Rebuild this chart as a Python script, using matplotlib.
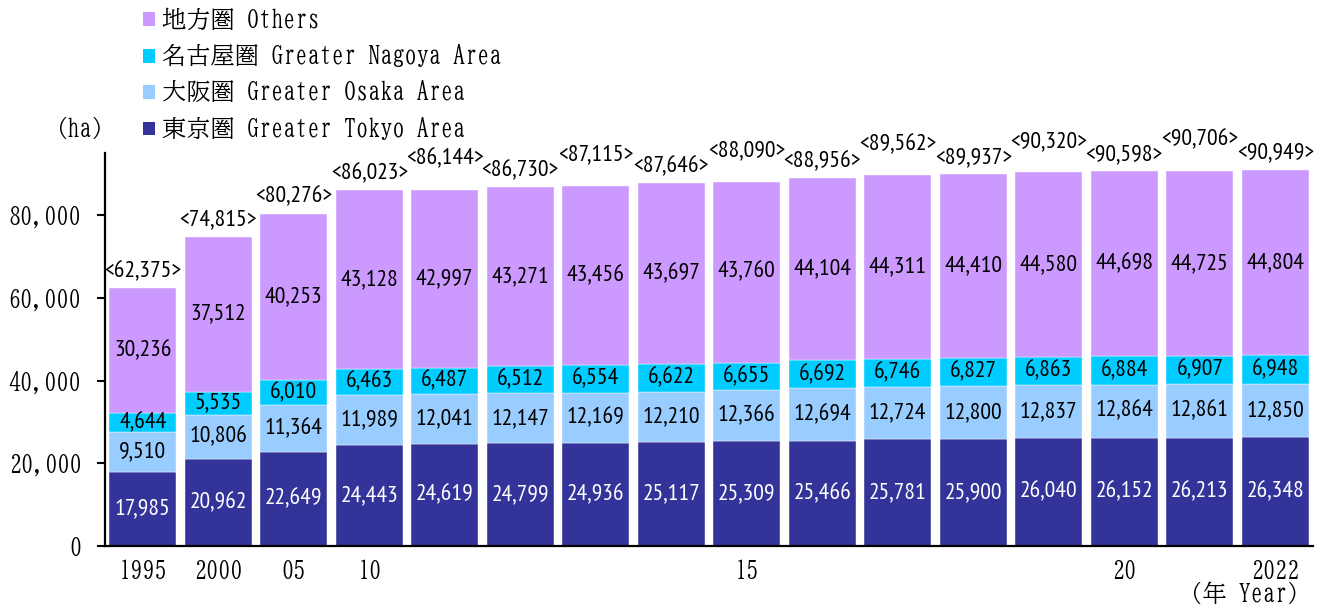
import matplotlib.pyplot as plt
from matplotlib.patches import Patch

# values (ha)
years = [1995, 2000, 2005, 2010, 2011, 2012, 2013, 2014, 2015,
         2016, 2017, 2018, 2019, 2020, 2021, 2022]
tick_labels = ['1995', '2000', '05', '10', '', '', '', '', '15',
               '', '', '', '', '20', '', '2022']
tokyo = [17985, 20962, 22649, 24443, 24619, 24799, 24936, 25117,
         25309, 25466, 25781, 25900, 26040, 26152, 26213, 26348]
osaka = [9510, 10806, 11364, 11989, 12041, 12147, 12169, 12210,
         12366, 12694, 12724, 12800, 12837, 12864, 12861, 12850]
nagoya = [4644, 5535, 6010, 6463, 6487, 6512, 6554, 6622,
          6655, 6692, 6746, 6827, 6863, 6884, 6907, 6948]
others = [30236, 37512, 40253, 43128, 42997, 43271, 43456, 43697,
          43760, 44104, 44311, 44410, 44580, 44698, 44725, 44804]
totals = [62375, 74815, 80276, 86023, 86144, 86730, 87115, 87646,
          88090, 88956, 89562, 89937, 90320, 90598, 90706, 90949]

series = [
    ('東京圏 Greater Tokyo Area', tokyo, '#333399', 'white'),
    ('大阪圏 Greater Osaka Area', osaka, '#99CCFF', 'black'),
    ('名古屋圏 Greater Nagoya Area', nagoya, '#00CCFF', 'black'),
    ('地方圏 Others', others, '#CC99FF', 'black'),
]

MINCHO = ['BIZ UDMincho', 'Noto Serif CJK JP']
NUM_FONT = 'PT Sans Narrow'
NUM_SIZE = 17
TXT_SIZE = 17.5

fig = plt.figure(figsize=(13.28, 6.05), dpi=100)
ax = fig.add_axes([105/1328, 1 - 546/605, 1208/1328, 393/605])

x = list(range(len(years)))
bottom = [0] * len(years)
handles = []
for name, vals, color, txt_color in series:
    bars = ax.bar(x, vals, width=0.89, bottom=bottom, color=color,
                  edgecolor='white', linewidth=0.3)
    ax.bar_label(bars, labels=[f'{v:,}' for v in vals], label_type='center',
                 color=txt_color, fontsize=NUM_SIZE, family=NUM_FONT)
    bottom = [b + v for b, v in zip(bottom, vals)]
    handles.append(Patch(facecolor=color, label=name))

# totals above bars, staggered so neighbours don't collide
for i, t in enumerate(totals):
    off = 22 if (i >= 4 and (i - 4) % 2 == 0) else 12
    ax.annotate(f'<{t:,}>', (i, bottom[i]), xytext=(0, off),
                textcoords='offset points', ha='center', va='center',
                fontsize=NUM_SIZE, family=NUM_FONT)

ax.set_xlim(-0.5, 15.5)
ax.set_ylim(0, 95000)
ax.set_yticks([0, 20000, 40000, 60000, 80000])
ax.set_yticklabels([f'{v:,}' for v in ax.get_yticks().astype(int)],
                   family=MINCHO, fontsize=TXT_SIZE)
ax.set_xticks(x)
ax.set_xticklabels(tick_labels, family=MINCHO, fontsize=TXT_SIZE)
ax.tick_params(axis='y', length=6, width=1.5, pad=11)
ax.tick_params(axis='x', length=0, pad=10)
for s in ['top', 'right']:
    ax.spines[s].set_visible(False)
for s in ['left', 'bottom']:
    ax.spines[s].set_linewidth(1.6)

fig.legend(handles=handles[::-1], loc='upper left',
           bbox_to_anchor=(143/1328, 1 - 8/605), frameon=False,
           prop={'family': MINCHO, 'size': TXT_SIZE}, handlelength=0.5,
           handleheight=0.5, handletextpad=0.3, labelspacing=0.56,
           borderpad=0, borderaxespad=0)

fig.text(79/1328, 1 - 129/605, '（ha）', family=MINCHO, fontsize=TXT_SIZE,
         ha='center', va='center')
fig.text(1311/1328, 1 - 594/605, '（年 Year）', family=MINCHO, fontsize=TXT_SIZE,
         ha='right', va='center')

fig.savefig('out.png', dpi=100)
